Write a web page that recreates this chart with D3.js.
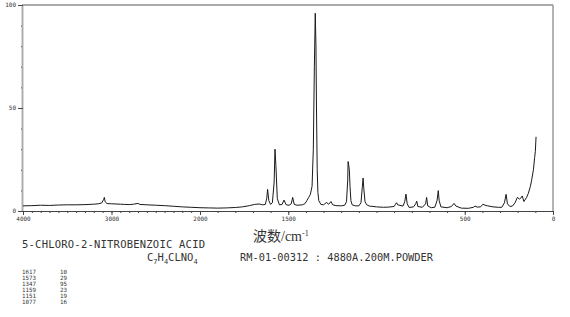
<!DOCTYPE html>
<html>
<head>
<meta charset="utf-8">
<script src="https://cdn.jsdelivr.net/npm/d3@7"></script>
<style>
  html, body { margin: 0; padding: 0; background: #fff; }
  svg { display: block; }
  .mono { font-family: "DejaVu Sans Mono", "Liberation Mono", monospace; fill: #333; }
</style>
</head>
<body>
<div id="chart"></div>
<script>
// Spectrum: wavenumber (cm-1) and relative intensity
const wavenumbers = [
  4000, 3900, 3800, 3700, 3600, 3500, 3400, 3300, 3200, 3150, 3110, 3090, 3081, 3072, 3050,
  3000, 2950, 2900, 2850, 2800, 2750, 2700, 2680, 2600, 2500, 2400, 2300, 2200, 2100, 2000,
  1950, 1900, 1850, 1800, 1760, 1720, 1690, 1665, 1645, 1630, 1622, 1617, 1610, 1600, 1590,
  1580, 1575, 1570, 1562, 1550, 1535, 1524, 1512, 1495, 1483, 1475, 1466, 1450, 1420, 1405,
  1395, 1385, 1375, 1365, 1358, 1352, 1347, 1343, 1340, 1336, 1332, 1327, 1315, 1300, 1282,
  1272, 1258, 1248, 1230, 1200, 1180, 1170, 1163, 1161, 1157, 1154, 1150, 1145, 1138, 1120,
  1100, 1088, 1080, 1076, 1072, 1065, 1055, 1040, 1000, 960, 930, 900, 892, 886, 880,
  850, 840, 833, 826, 815, 790, 778, 772, 766, 740, 722, 716, 710, 690, 670,
  657, 650, 645, 635, 600, 575, 561, 550, 520, 480, 450, 442, 430, 410, 397,
  385, 370, 340, 310, 290, 275, 266, 258, 245, 230, 215, 202, 190, 183, 174,
  165, 150, 140, 128, 121, 111, 104, 100, 96
];
const intensities = [
  2.5, 2.6, 2.8, 2.7, 2.9, 3.0, 3.0, 3.1, 3.3, 3.5, 3.9, 5.5, 6.6, 4.5, 3.6,
  3.5, 3.4, 3.3, 3.2, 3.1, 3.3, 3.7, 3.2, 3.0, 2.8, 2.6, 2.3, 2.0, 1.8, 1.6,
  1.5, 1.4, 1.5, 1.7, 2.0, 2.6, 3.2, 3.4, 3.0, 3.2, 6.0, 10.5, 5.0, 3.2, 4.0,
  14, 30, 22, 6.0, 3.0, 3.2, 5.3, 3.0, 2.8, 3.5, 6.6, 3.2, 2.8, 3.0, 3.6,
  5.0, 6.5, 8.0, 12, 30, 70, 96, 80, 50, 20, 9.0, 5.0, 3.2, 3.0, 4.2,
  3.2, 4.6, 3.0, 2.6, 2.5, 2.8, 4.5, 15, 24, 22, 20, 12, 5.0, 3.0, 2.5,
  2.5, 4.0, 12, 16, 11, 4.5, 3.0, 2.4, 2.0, 1.8, 1.9, 2.2, 3.3, 4.0, 3.0,
  2.4, 4.5, 8.2, 3.5, 1.7, 2.0, 3.5, 4.8, 2.2, 1.8, 3.5, 6.6, 2.5, 1.6, 1.8,
  5.0, 9.9, 5.0, 2.0, 1.6, 2.2, 3.7, 2.4, 1.4, 1.3, 1.8, 2.4, 1.9, 2.0, 3.3,
  2.8, 2.5, 2.0, 1.8, 1.8, 4.0, 8.1, 3.5, 2.2, 2.4, 4.0, 6.6, 5.8, 6.2, 7.3,
  4.6, 6.5, 8.5, 12, 15, 20, 26, 29, 36
];

// Axis ticks
const xMajorTicks = [4000, 3000, 2000, 1500, 500, 0];
const xMinorTicks = d3.range(0, 4001, 100);
const yMajorTicks = [0, 50, 100];
const yMinorTicks = d3.range(0, 101, 10);

// Peak table
const peakWavenumbers = [1617, 1573, 1347, 1159, 1151, 1077];
const peakIntensities = [10, 29, 95, 23, 19, 16];

const width = 570, height = 317;

const svg = d3.select("#chart").append("svg")
  .attr("width", width)
  .attr("height", height);

// two-scale wavenumber axis: 4000-2000 compressed to half
const x = d3.scaleLinear().domain([4000, 2000, 0]).range([23, 200, 553]);
const y = d3.scaleLinear().domain([0, 100]).range([211, 5]);

// frame
svg.append("line").attr("x1", 22).attr("x2", 553).attr("y1", 5).attr("y2", 5)
  .attr("stroke", "#555").attr("stroke-width", 1);
svg.append("line").attr("x1", 553).attr("x2", 553).attr("y1", 5).attr("y2", 211)
  .attr("stroke", "#999").attr("stroke-width", 1.5);

// x axis
const xMinor = svg.append("g").attr("transform", "translate(0,211)")
  .call(d3.axisBottom(x).tickValues(xMinorTicks).tickSize(2).tickFormat(""));
const xMajor = svg.append("g").attr("transform", "translate(0,211)")
  .call(d3.axisBottom(x).tickValues(xMajorTicks).tickSize(4).tickPadding(2).tickFormat(d3.format("d")));
[xMinor, xMajor].forEach(g => {
  g.select(".domain").attr("stroke", "#444").attr("d", "M22,0.5H553");
  g.selectAll(".tick line").attr("stroke", "#444");
});
xMajor.selectAll("text")
  .attr("class", "mono")
  .style("font-size", "6px")
  .attr("fill", "#333");

// y axis
const yMinor = svg.append("g").attr("transform", "translate(23,0)")
  .call(d3.axisLeft(y).tickValues(yMinorTicks).tickSize(2).tickFormat(""));
const yMajor = svg.append("g").attr("transform", "translate(23,0)")
  .call(d3.axisLeft(y).tickValues(yMajorTicks).tickSize(5).tickPadding(2));
[yMinor, yMajor].forEach(g => {
  g.select(".domain").attr("stroke", "#aaa").attr("stroke-width", 1.5).attr("d", "M-0.5,5V211");
  g.selectAll(".tick line").attr("stroke", "#444");
});
yMajor.selectAll("text")
  .attr("class", "mono")
  .style("font-size", "6px")
  .attr("fill", "#333");

// spectrum
const points = wavenumbers.map((w, i) => [w, intensities[i]]);
svg.append("path")
  .datum(points)
  .attr("fill", "none")
  .attr("stroke", "#1a1a1a")
  .attr("stroke-width", 1)
  .attr("stroke-linejoin", "round")
  .attr("d", d3.line().x(d => x(d[0])).y(d => y(d[1])));

// axis title
const xt = svg.append("text")
  .attr("x", 253).attr("y", 241)
  .style("font-family", "'Liberation Serif', 'Noto Sans CJK SC', serif")
  .style("font-size", "14px")
  .attr("fill", "#333");
xt.append("tspan").text("波数/cm");
xt.append("tspan").attr("dy", -5).style("font-size", "8px").text("-1");

// compound name and info
svg.append("text").attr("class", "mono")
  .attr("x", 22).attr("y", 248)
  .style("font-size", "10.5px")
  .attr("textLength", 183).attr("lengthAdjust", "spacing")
  .text("5-CHLORO-2-NITROBENZOIC ACID");

const formula = svg.append("text").attr("class", "mono")
  .attr("x", 147).attr("y", 261)
  .style("font-size", "10.5px");
[["C", ""], ["7", "sub"], ["H", ""], ["4", "sub"], ["CLNO", ""], ["4", "sub"]].forEach(([t, k]) => {
  const s = formula.append("tspan").text(t);
  if (k === "sub") s.attr("dy", 3).style("font-size", "7px");
  else s.attr("dy", formula.selectAll("tspan").size() > 1 ? -3 : 0);
});

svg.append("text").attr("class", "mono")
  .attr("x", 240).attr("y", 261)
  .style("font-size", "10.3px")
  .attr("textLength", 193).attr("lengthAdjust", "spacing")
  .text("RM-01-00312 : 4880A.200M.POWDER");

// peak table
const rows = svg.append("g").selectAll("g")
  .data(peakWavenumbers)
  .join("g")
  .attr("transform", (d, i) => `translate(0,${274 + i * 6})`);
rows.append("text").attr("class", "mono")
  .attr("x", 22).style("font-size", "5.8px")
  .text(d => d);
rows.append("text").attr("class", "mono")
  .attr("x", 60).style("font-size", "5.8px")
  .text((d, i) => peakIntensities[i]);
</script>
</body>
</html>
